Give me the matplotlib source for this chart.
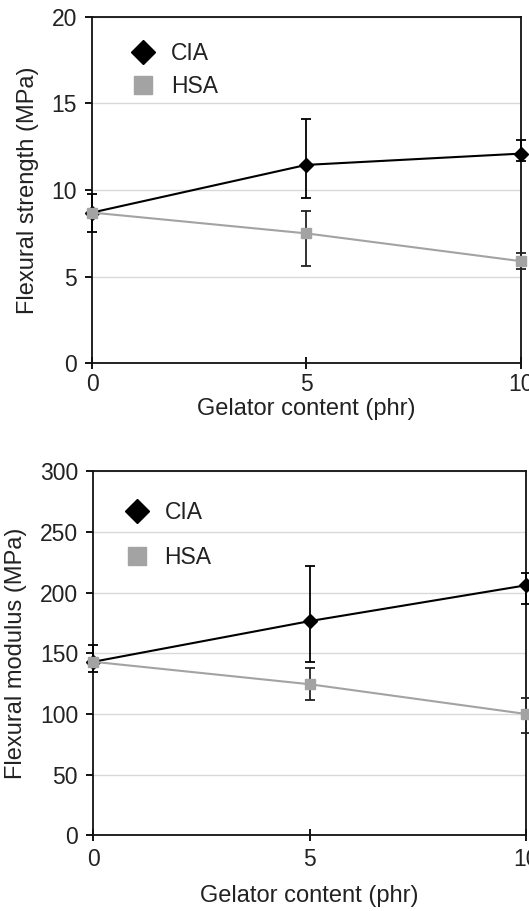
import matplotlib
matplotlib.use('Agg')

import matplotlib.pyplot as plt
from matplotlib.lines import Line2D

plt.rcParams['font.family'] = ['Liberation Sans', 'DejaVu Sans']

# Gelator content (phr)
content = [0, 5, 10]

# Flexural strength (MPa) with lower / upper error
cia_strength = [8.7, 11.45, 12.1]
cia_strength_lo = [1.1, 1.9, 0.45]
cia_strength_hi = [1.1, 2.65, 0.8]
hsa_strength = [8.7, 7.5, 5.9]
hsa_strength_lo = [0.0, 1.9, 0.45]
hsa_strength_hi = [0.0, 1.3, 0.45]

# Flexural modulus (MPa) with lower / upper error
cia_modulus = [143, 176.5, 206]
cia_modulus_lo = [8.5, 34, 15]
cia_modulus_hi = [13.5, 45, 10]
hsa_modulus = [143, 124.5, 100]
hsa_modulus_lo = [0, 13, 16]
hsa_modulus_hi = [0, 13, 13]

strength_ticks = [0, 5, 10, 15, 20]
modulus_ticks = [0, 50, 100, 150, 200, 250, 300]

TXT = '#222222'
GRAY = '#a3a3a3'
FS = 16.5


def panel(ax, cia, cia_lo, cia_hi, hsa, hsa_lo, hsa_hi, yticks, ylabel,
          legend_anchor, spacing, xpad, lpad):
    ax.errorbar(content, cia, yerr=[cia_lo, cia_hi], color='black', lw=1.5,
                marker='D', ms=7, ecolor='black', elinewidth=1.3,
                capsize=3.5, capthick=1.3, zorder=3, clip_on=False)
    ax.errorbar(content, hsa, yerr=[hsa_lo, hsa_hi], color=GRAY, lw=1.5,
                marker='s', ms=7, ecolor='#222222', elinewidth=1.3,
                capsize=3.5, capthick=1.3, zorder=4, clip_on=False)

    ax.set_xlim(0, 10)
    ax.set_ylim(yticks[0], yticks[-1])
    ax.set_xticks(content)
    ax.set_yticks(yticks)
    ax.yaxis.grid(True, color='#d9d9d9', lw=1)
    ax.set_axisbelow(True)
    for s in ax.spines.values():
        s.set_linewidth(1.3)
        s.set_color('#111111')
    ax.tick_params(axis='y', direction='out', length=5, width=1.3,
                   labelsize=FS, labelcolor=TXT, pad=6)
    ax.tick_params(axis='x', direction='inout', length=8, width=1.3,
                   labelsize=FS, labelcolor=TXT, pad=xpad)
    ax.set_xlabel('Gelator content (phr)', fontsize=17, color=TXT,
                  labelpad=lpad)
    ax.set_ylabel(ylabel, fontsize=17, color=TXT, labelpad=9)

    handles = [
        Line2D([], [], ls='none', marker='D', color='black', ms=12),
        Line2D([], [], ls='none', marker='s', color=GRAY, ms=13),
    ]
    ax.legend(handles, ['CIA', 'HSA'], loc='upper left',
              bbox_to_anchor=legend_anchor, frameon=False, fontsize=FS,
              handlelength=1.0, handletextpad=0.7, labelspacing=spacing,
              labelcolor=TXT)


fig = plt.figure(figsize=(5.29, 9.11), dpi=100)
ax1 = fig.add_axes([0.174, 0.6011, 0.810, 0.3806])
ax2 = fig.add_axes([0.1764, 0.0830, 0.818, 0.3998])

panel(ax1, cia_strength, cia_strength_lo, cia_strength_hi,
      hsa_strength, hsa_strength_lo, hsa_strength_hi,
      strength_ticks, 'Flexural strength (MPa)', (0.045, 0.985), 0.42, 3, 1)
panel(ax2, cia_modulus, cia_modulus_lo, cia_modulus_hi,
      hsa_modulus, hsa_modulus_lo, hsa_modulus_hi,
      modulus_ticks, 'Flexural modulus (MPa)', (0.027, 0.975), 0.95, 5, 10)

fig.savefig('out.png', dpi=100)
